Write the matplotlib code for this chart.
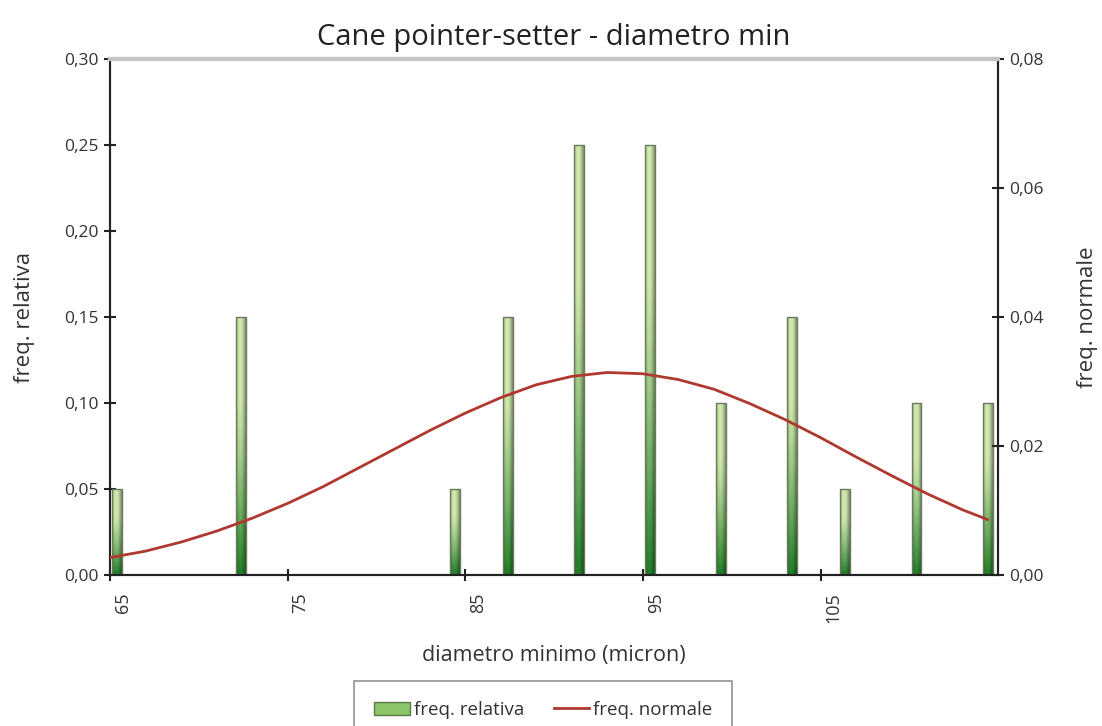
import numpy as np
import matplotlib.pyplot as plt
from matplotlib.patches import Rectangle
from matplotlib.lines import Line2D
from matplotlib.ticker import FuncFormatter
from matplotlib.transforms import ScaledTranslation

plt.rcParams['font.family'] = ['Open Sans', 'DejaVu Sans']

# relative frequency bars (left axis)
bar_x = [65.4, 72.4, 84.4, 87.4, 91.4, 95.4, 99.4, 103.4, 106.4, 110.4, 114.4]
bar_h = [0.05, 0.15, 0.05, 0.15, 0.25, 0.25, 0.10, 0.15, 0.05, 0.10, 0.10]

# normal curve (right axis)
curve_x = [65, 67, 69, 71, 73, 75, 77, 79, 81, 83, 85, 87, 89, 91, 93, 95,
           97, 99, 101, 103, 105, 107, 109, 111, 113, 114.4]
curve_y = [0.0027, 0.0037, 0.0051, 0.0068, 0.0088, 0.0111, 0.0137, 0.0166,
           0.0195, 0.0224, 0.0251, 0.0275, 0.0295, 0.0308, 0.0314, 0.0312,
           0.0303, 0.0288, 0.0266, 0.0241, 0.0213, 0.0183, 0.0154, 0.0126,
           0.0101, 0.0086]

x_ticks = [65, 75, 85, 95, 105]
left_ticks = [0, 0.05, 0.10, 0.15, 0.20, 0.25, 0.30]
right_ticks = [0, 0.02, 0.04, 0.06, 0.08]

fig = plt.figure(figsize=(11.02, 7.26), dpi=100)
ax = fig.add_axes([0.0998, 0.208, 0.806, 0.7107])
ax2 = ax.twinx()

# bar gradient: light top, dark green bottom, darker edges
nv, nh = 64, 16
v = np.linspace(0, 1, nv)[:, None]  # 0 top, 1 bottom
h = np.linspace(-1, 1, nh)[None, :]
top = np.array([0.82, 0.92, 0.68])
bot = np.array([0.13, 0.50, 0.16])
t = np.clip((v - 0.3) / 0.7, 0, 1) ** 1.3
base = top * (1 - t[..., None]) + bot * t[..., None]
shade = 1 - 0.35 * np.clip(np.abs(h + 0.15), 0, 1) ** 2
img = base * shade[..., None]
img = np.broadcast_to(img, (nv, nh, 3)).copy()

bw = 0.56
for xc, hh in zip(bar_x, bar_h):
    x0, x1 = xc - bw / 2, xc + bw / 2
    ax.imshow(img, extent=(x0, x1, 0, hh), aspect='auto', zorder=2,
              interpolation='bilinear')
    ax.add_patch(Rectangle((x0, 0), bw, hh, fill=False, ec='#6b7a5e',
                           lw=1.0, zorder=3))
ax.set_xlim(65, 115)
ax.set_ylim(0, 0.30)
ax2.set_ylim(0, 0.08)

ax2.plot(curve_x, curve_y, color='#b0392f', lw=2, zorder=4)

fmt = FuncFormatter(lambda val, pos: f"{val:.2f}".replace('.', ','))
ax.set_yticks(left_ticks)
ax.yaxis.set_major_formatter(fmt)
ax2.set_yticks(right_ticks)
ax2.yaxis.set_major_formatter(fmt)
ax.set_xticks(x_ticks)
ax.set_xticklabels([str(v) for v in x_ticks], rotation=90)

for a in (ax, ax2):
    a.tick_params(direction='inout', length=9, width=1.5, colors='#222222',
                  labelsize=12.5, labelcolor='#333333')
ax.tick_params(axis='x', pad=8, labelsize=13)
shift = ScaledTranslation(13 / 100, 0, fig.dpi_scale_trans)
for lbl in ax.get_xticklabels():
    lbl.set_transform(lbl.get_transform() + shift)

for a in (ax, ax2):
    for s in ('left', 'right', 'bottom'):
        a.spines[s].set_color('#222222')
        a.spines[s].set_linewidth(1.5)
    a.spines['top'].set_color('#c4c4c4')
    a.spines['top'].set_linewidth(3)

ax.set_xlabel('diametro minimo (micron)', fontsize=15.5, color='#333333',
              labelpad=16)
ax.set_ylabel('freq. relativa', fontsize=16, color='#333333', labelpad=21)
ax2.set_ylabel('freq. normale', fontsize=16, color='#333333', labelpad=24,
               rotation=90)
ax.set_title('Cane pointer-setter - diametro min', fontsize=21,
             color='#222222', pad=10)

# legend
handles = [Rectangle((0, 0), 1, 1, fc='#8cc46a', ec='#5a7a48'),
           Line2D([0], [0], color='#b0392f', lw=2)]
leg = fig.legend(handles, ['freq. relativa', 'freq. normale'], ncol=2,
                 loc='lower center', bbox_to_anchor=(0.493, -0.03),
                 frameon=True, fancybox=False, fontsize=13.5,
                 handlelength=1.9, handletextpad=0.2, columnspacing=1.6,
                 borderpad=1.05)
leg.get_frame().set_edgecolor('#777777')
leg.get_frame().set_linewidth(1.2)
for txt in leg.get_texts():
    txt.set_color('#333333')

fig.savefig('out.png', dpi=100)
